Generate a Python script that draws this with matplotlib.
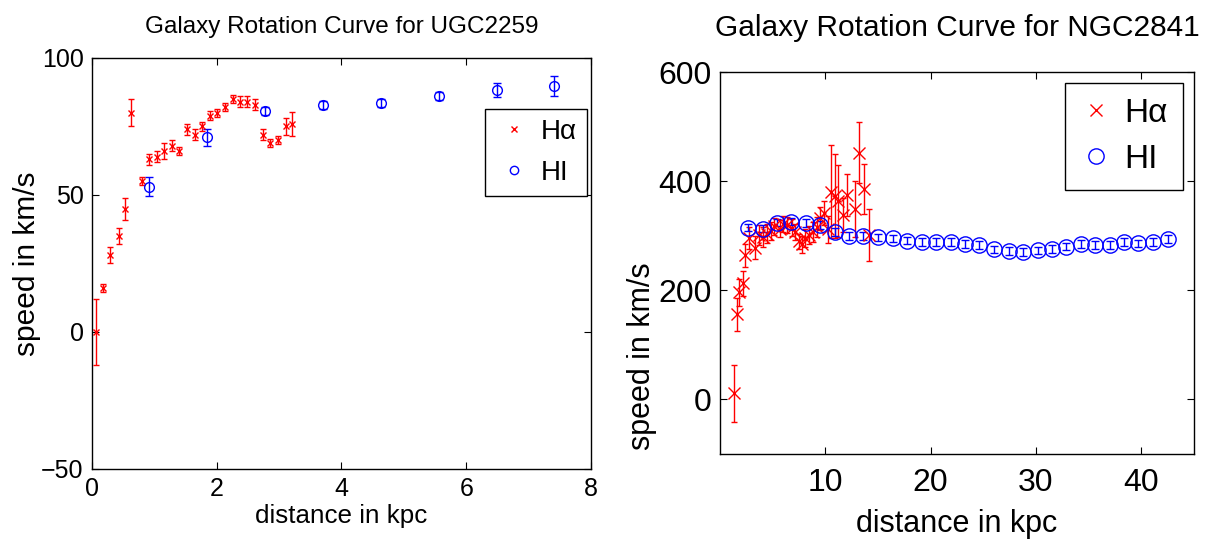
import matplotlib
matplotlib.use("Agg")
import matplotlib.pyplot as plt
from matplotlib.lines import Line2D

plt.rcParams['font.family'] = ['Liberation Sans', 'DejaVu Sans']

# UGC2259: H-alpha
ugc_ha_r = [0.06, 0.17, 0.29, 0.43, 0.53, 0.63, 0.80, 0.91, 1.05, 1.15, 1.29, 1.40, 1.53, 1.65,
            1.77, 1.89, 2.01, 2.14, 2.26, 2.38, 2.49, 2.62, 2.75, 2.86, 2.98, 3.11, 3.21]
ugc_ha_v = [0, 16, 28, 35, 45, 80, 55, 63, 64, 66, 68, 66, 74, 72,
            75, 79, 80, 82, 85, 84, 84, 83, 72, 69, 70, 75, 76]
ugc_ha_e = [12, 1.5, 3, 3, 4, 5, 1.5, 2, 2, 3, 2, 1.5, 2, 2,
            1.5, 1.5, 1.5, 1.5, 1.5, 2, 2, 2, 2, 1.5, 1.5, 3, 4.3]
# UGC2259: HI
ugc_hi_r = [0.92, 1.85, 2.78, 3.71, 4.63, 5.56, 6.49, 7.41]
ugc_hi_v = [53, 71, 80.6, 82.8, 83.7, 86, 88.3, 89.8]
ugc_hi_e = [3.4, 3.1, 1.5, 1.5, 1.5, 1.5, 2.4, 3.7]

# NGC2841: H-alpha
ngc_ha_r = [1.30, 1.59, 1.80, 2.14, 2.41, 2.80, 3.35, 3.74, 4.13, 4.44, 4.83, 5.14, 5.71, 6.03,
            6.41, 6.83, 7.14, 7.46, 7.75, 8.05, 8.41, 8.80, 9.20, 9.52, 9.84, 10.26, 10.57, 10.89,
            11.20, 11.65, 12.06, 12.80, 13.24, 13.65, 14.13]
ngc_ha_v = [11, 156, 196, 213, 264, 296, 278, 301, 298, 304, 309, 317, 313, 321,
            320, 315, 307, 290, 284, 296, 301, 307, 316, 332, 341, 312, 381, 372,
            364, 338, 375, 349, 452, 385, 301]
ngc_ha_e = [52, 30, 25, 23, 21, 20, 21, 18, 18, 17, 17, 16, 16, 15,
            15, 15, 15, 14, 15, 16, 17, 18, 19, 21, 22, 25, 86, 77,
            66, 31, 39, 52, 56, 46, 48]
# NGC2841: HI
ngc_hi_r = [2.70, 4.05, 5.40, 6.75, 8.15, 9.52, 10.90, 12.28, 13.62, 15.00, 16.38, 17.78, 19.14,
            20.54, 21.90, 23.27, 24.63, 26.03, 27.40, 28.76, 30.16, 31.52, 32.89, 34.26, 35.65,
            37.00, 38.40, 39.70, 41.10, 42.50]
ngc_hi_v = [315, 313, 324, 326, 323, 320, 307, 299, 299, 297, 295, 291, 289,
            289, 288, 285, 283, 275, 272, 270, 273, 276, 280, 285, 283,
            283, 288, 286, 288, 294]
ngc_hi_e = [7] * len(ngc_hi_r)

RED = (1, 0, 0)
BLUE = (0, 0, 1)

fig = plt.figure(figsize=(12.07, 5.44), dpi=100)
ax1 = fig.add_axes([0.0762, 0.1379, 0.4134, 0.7555])
ax2 = fig.add_axes([0.5965, 0.1654, 0.3927, 0.7022])


def style_axes(ax, tick_size, xpad):
    ax.tick_params(direction="in", top=True, right=True, length=5, width=0.8,
                   labelsize=tick_size, pad=6)
    ax.tick_params(axis="x", pad=xpad)
    for s in ax.spines.values():
        s.set_linewidth(1.0)


# left panel
ax1.errorbar(ugc_ha_r, ugc_ha_v, yerr=ugc_ha_e, fmt="x", color=RED, ms=5, mew=1,
             elinewidth=1, capsize=2.5)
ax1.errorbar(ugc_hi_r, ugc_hi_v, yerr=ugc_hi_e, fmt="o", color=BLUE, mfc="none", ms=7,
             mew=1, elinewidth=1, capsize=3)
ax1.set_xlim(0, 8)
ax1.set_ylim(-50, 100)
ax1.set_xticks([0, 2, 4, 6, 8])
ax1.set_yticks([-50, 0, 50, 100])
style_axes(ax1, 18, 6)
ax1.set_title("Galaxy Rotation Curve for UGC2259", fontsize=17.5, pad=18)
ax1.set_xlabel("distance in kpc", fontsize=18.7, labelpad=2)
ax1.set_ylabel("speed in km/s", fontsize=21.5, labelpad=0)
h1 = [Line2D([], [], ls="none", marker="x", color=RED, ms=5),
      Line2D([], [], ls="none", marker="o", color=BLUE, mfc="none", ms=6)]
ax1.legend(h1, ["H\u03b1", "HI"], loc="upper right", bbox_to_anchor=(0.992, 0.876),
           borderaxespad=0, fancybox=False, edgecolor="black", framealpha=1,
           fontsize=20, handlelength=1.37, handletextpad=0.3, labelspacing=0.55,
           borderpad=0.35)

# right panel
ax2.errorbar(ngc_ha_r, ngc_ha_v, yerr=ngc_ha_e, fmt="x", color=RED, ms=9, mew=1,
             elinewidth=1, capsize=2)
ax2.errorbar(ngc_hi_r, ngc_hi_v, yerr=ngc_hi_e, fmt="o", color=BLUE, mfc="none", ms=11,
             mew=1, elinewidth=1, capsize=3)
ax2.set_xlim(0, 45)
ax2.set_ylim(-100, 600)
ax2.set_xticks([10, 20, 30, 40])
ax2.set_yticks([0, 200, 400, 600])
style_axes(ax2, 23, 10)
ax2.set_title("Galaxy Rotation Curve for NGC2841", fontsize=21.5, pad=26)
ax2.set_xlabel("distance in kpc", fontsize=22, labelpad=8)
ax2.set_ylabel("speed in km/s", fontsize=22, labelpad=1)
ax2.yaxis.label.set_y(0.257)
h2 = [Line2D([], [], ls="none", marker="x", color=RED, ms=9),
      Line2D([], [], ls="none", marker="o", color=BLUE, mfc="none", ms=11)]
ax2.legend(h2, ["H\u03b1", "HI"], loc="upper right", bbox_to_anchor=(0.977, 0.971),
           borderaxespad=0, fancybox=False, edgecolor="black", framealpha=1,
           fontsize=24, handlelength=1.0, handletextpad=0.35, labelspacing=0.45,
           borderpad=0.45)

fig.savefig("out.png", dpi=100)
